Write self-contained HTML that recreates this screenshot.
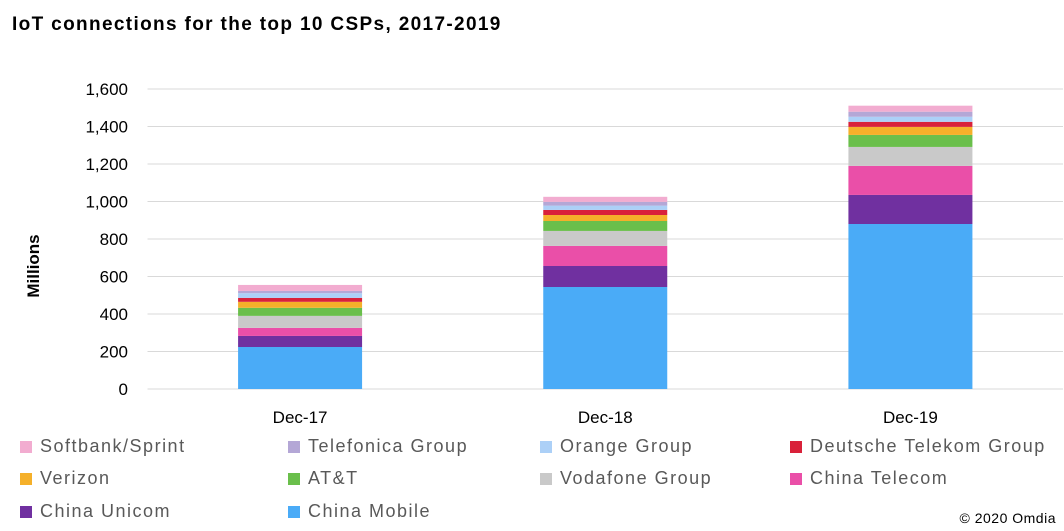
<!DOCTYPE html>
<html><head><meta charset="utf-8"><style>
body{margin:0;background:#fff;font-family:"Liberation Sans",sans-serif;}
#wrap{position:relative;width:1064px;height:531px;overflow:hidden;}
.leg{position:absolute;font-size:18px;letter-spacing:1.5px;color:#595959;display:flex;align-items:center;}
.leg span.sw{width:12px;height:12px;margin-right:8px;display:inline-block;}
</style></head><body>
<div id="wrap">
<div style="position:absolute;left:12px;top:14px;font-size:19px;letter-spacing:1.35px;font-weight:bold;color:#000;">IoT connections for the top 10 CSPs, 2017-2019</div>
<svg id="svg" width="1064" height="531" style="position:absolute;left:0;top:0"></svg>
<div id="legend"></div>
<div style="position:absolute;right:8px;top:510px;font-size:14px;letter-spacing:0.5px;color:#000;">© 2020 Omdia</div>
</div>
<script>
const categories=["Dec-17","Dec-18","Dec-19"];
const seriesNames=["China Mobile","China Unicom","China Telecom","Vodafone Group","AT&T","Verizon","Deutsche Telekom Group","Orange Group","Telefonica Group","Softbank/Sprint"];
const chinaMobile=[224,544,880];
const chinaUnicom=[59,112,155];
const chinaTelecom=[43,107,155];
const vodafone=[64,80,101];
const att=[43,53,64];
const verizon=[32,32,43];
const dtag=[21,27,27];
const orange=[25,23,27];
const telefonica=[12,20,27];
const softbank=[32,27,32];
const yTicks=[0,200,400,600,800,1000,1200,1400,1600];
const yTickLabels=["0","200","400","600","800","1,000","1,200","1,400","1,600"];
const colors=["#4aabf7","#7030a0","#ea4fa8","#c9c9c9","#6abf4b","#f5b02a","#d9213a","#acd0f7","#b4a7d6","#f2acd0"];
const series=[chinaMobile,chinaUnicom,chinaTelecom,vodafone,att,verizon,dtag,orange,telefonica,softbank];
const svg=document.getElementById('svg');const NS="http://www.w3.org/2000/svg";
const x0=147.5,x1=1063,y0=389,y1=89,ymax=1600;
const Y=v=>y0-(v/ymax)*(y0-y1);
const bw=(x1-x0)/categories.length;
const X=i=>x0+bw*(i+0.5);
function mk(t,a){const e=document.createElementNS(NS,t);for(const k in a)e.setAttribute(k,a[k]);svg.appendChild(e);return e;}
yTicks.forEach((v,i)=>{
 if(i>0){const l=mk('line',{x1:x0,x2:x1,y1:Y(v),y2:Y(v),stroke:'#d9d9d9','stroke-width':1});
 
 }
 const t=mk('text',{x:128,y:Y(v)+6,'text-anchor':'end','font-size':17,fill:'#000','font-family':'Liberation Sans'});
 t.textContent=yTickLabels[i];
 
 
});
const ax=mk('line',{x1:x0,x2:x1,y1:y0,y2:y0,stroke:'#d9d9d9','stroke-width':1});


const yt=mk('text',{x:0,y:0,'text-anchor':'middle','font-size':17,'font-weight':'bold',fill:'#000','font-family':'Liberation Sans',transform:'translate(39,266) rotate(-90)'});
yt.textContent='Millions';


categories.forEach((c,i)=>{
 let cum=0;
 series.forEach((s,k)=>{
  const r=mk('rect',{x:X(i)-62,y:Y(cum+s[i]),width:124,height:Y(cum)-Y(cum+s[i]),fill:colors[k]});
  
  
  cum+=s[i];
 });
 const t=mk('text',{x:X(i),y:423,'text-anchor':'middle','font-size':17,fill:'#000','font-family':'Liberation Sans'});
 t.textContent=c;
 
 
});
const order=[9,8,7,6,5,4,3,2,1,0];
const colX=[20,288,540,790],rowY=[436,468,501];
const lg=document.getElementById('legend');
order.forEach((k,j)=>{
 const d=document.createElement('div');d.className='leg';
 
 
 d.style.left=colX[j%4]+'px';d.style.top=rowY[Math.floor(j/4)]+'px';
 d.innerHTML='<span class="sw" style="background:'+colors[k]+'"></span>';
 d.appendChild(document.createTextNode(seriesNames[k]));
 lg.appendChild(d);
});
</script>
</body></html>
